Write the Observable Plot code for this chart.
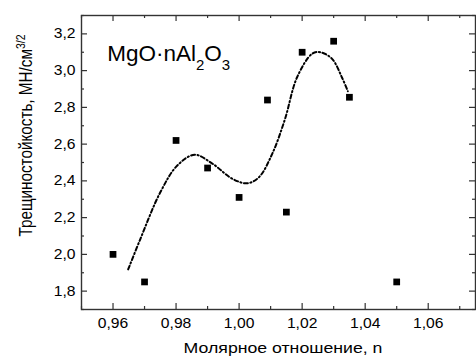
<!DOCTYPE html>
<html><head><meta charset="utf-8">
<script src="https://cdn.jsdelivr.net/npm/d3@7"></script>
<script src="https://cdn.jsdelivr.net/npm/@observablehq/plot@0.6"></script>
<style>html,body{margin:0;padding:0;background:#fff} svg{display:block}</style>
</head><body><div id="chart"></div>
<script>
// Measured points
const ratioN     = [0.96, 0.97, 0.98, 0.99, 1.00, 1.009, 1.015, 1.02, 1.03, 1.035, 1.05];
const toughness  = [2.00, 1.85, 2.62, 2.47, 2.31, 2.84,  2.23,  3.10, 3.16, 2.855, 1.85];
// Fitted (dash-dot) curve
const fitN = [0.9648, 0.9687, 0.9750, 0.9804, 0.9859, 0.9916, 0.9979, 1.0026, 1.0063, 1.0105, 1.0145, 1.0184, 1.0232, 1.0258, 1.0295, 1.0326, 1.0345];
const fitT = [1.918, 2.085, 2.338, 2.484, 2.542, 2.493, 2.411, 2.387, 2.420, 2.547, 2.733, 2.964, 3.092, 3.100, 3.064, 2.964, 2.888];
// Ticks
const xMajorTicks = [0.96, 0.98, 1.00, 1.02, 1.04, 1.06];
const xMinorTicks = [0.95, 0.97, 0.99, 1.01, 1.03, 1.05, 1.07];
const yMajorTicks = [1.8, 2.0, 2.2, 2.4, 2.6, 2.8, 3.0, 3.2];
const yMinorTicks = [1.7, 1.9, 2.1, 2.3, 2.5, 2.7, 2.9, 3.1, 3.3];
// Texts
const xLabel = "Молярное отношение, n";
const yLabel = "Трещиностойкость, МН/см";
const yLabelSup = "3/2";
const annotationParts = ["MgO·nAl", "2", "O", "3"];

const W = 476, H = 358, mL = 81, mR = 1, mT = 15, mB = 49;
const pw = W - mL - mR, ph = H - mT - mB;
const fmt = (d, n) => d.toFixed(n).replace(".", ",");

const points = ratioN.map((n, i) => ({n, t: toughness[i]}));
const fit = fitN.map((n, i) => ({n, t: fitT[i]}));
const tickColor = "#333";

const svg = Plot.plot({
  width: W, height: H,
  marginLeft: mL, marginRight: mR, marginTop: mT, marginBottom: mB,
  style: {fontFamily: "'Liberation Sans', Arial, sans-serif", background: "#fff", color: "#000", overflow: "visible"},
  x: {domain: [0.95, 1.075]},
  y: {domain: [1.7, 3.3]},
  marks: [
    Plot.tickX(xMajorTicks, {x: d => d, insetTop: ph - 6, stroke: tickColor, strokeWidth: 1.2}),
    Plot.tickX(xMinorTicks, {x: d => d, insetTop: ph - 3, stroke: tickColor, strokeWidth: 1.2}),
    Plot.tickX(xMajorTicks, {x: d => d, insetBottom: ph - 6, stroke: tickColor, strokeWidth: 1.2}),
    Plot.tickX(xMinorTicks, {x: d => d, insetBottom: ph - 3, stroke: tickColor, strokeWidth: 1.2}),
    Plot.tickY(yMajorTicks, {y: d => d, insetRight: pw - 6, stroke: tickColor, strokeWidth: 1.2}),
    Plot.tickY(yMinorTicks, {y: d => d, insetRight: pw - 3, stroke: tickColor, strokeWidth: 1.2}),
    Plot.tickY(yMajorTicks, {y: d => d, insetLeft: pw - 6, stroke: tickColor, strokeWidth: 1.2}),
    Plot.tickY(yMinorTicks, {y: d => d, insetLeft: pw - 3, stroke: tickColor, strokeWidth: 1.2}),
    Plot.axisX(xMajorTicks, {tickSize: 0, tickPadding: 9, tickFormat: d => fmt(d, 2), fontSize: 14, label: null}),
    Plot.axisY(yMajorTicks, {tickSize: 0, tickPadding: 6, tickFormat: d => fmt(d, 1), fontSize: 14, label: null}),
    Plot.frame({stroke: tickColor, strokeWidth: 1.4}),
    Plot.line(fit, {x: "n", y: "t", curve: "catmull-rom", stroke: "#000", strokeWidth: 2, strokeDasharray: "4,2.5,1.2,2.5"}),
    Plot.dot(points, {x: "n", y: "t", symbol: "square", r: 3.8, fill: "#000", stroke: "none"}),
    Plot.text([xLabel], {text: d => d, frameAnchor: "bottom", textAnchor: "middle", lineAnchor: "middle", dx: 4.5, dy: 38.7, fontSize: 15}),
    Plot.text([yLabel], {text: d => d, frameAnchor: "left", textAnchor: "middle", lineAnchor: "middle", rotate: -90, dx: -55, dy: -27, fontSize: 15.3}),
    Plot.text([annotationParts[0]], {text: d => d, frameAnchor: "top-left", textAnchor: "start", lineAnchor: "bottom", dx: 25.7, dy: 45.7, fontSize: 22.5})
  ]
});
document.getElementById("chart").append(svg);

const NS = "http://www.w3.org/2000/svg";
const texts = Array.from(svg.querySelectorAll("text"));
const findText = s => texts.find(t => t.textContent === s);
function addScale(t, sx, sy) {
  if (!t) return;
  const tr = t.getAttribute("transform") || "";
  t.setAttribute("transform", tr + ` scale(${sx},${sy})`);
}
function tspan(parent, txt, dy, fs) {
  const t = document.createElementNS(NS, "tspan");
  if (dy != null) t.setAttribute("dy", dy);
  if (fs != null) t.setAttribute("font-size", fs);
  t.textContent = txt;
  parent.appendChild(t);
}
// stretch tick labels
const xTickStr = xMajorTicks.map(d => fmt(d, 2));
const yTickStr = yMajorTicks.map(d => fmt(d, 1));
texts.forEach(t => {
  if (xTickStr.includes(t.textContent) || yTickStr.includes(t.textContent)) addScale(t, 1.12, 1);
});
// x label
addScale(findText(xLabel), 1.18, 1);
// y label with superscript
const yl = findText(yLabel);
if (yl) {
  tspan(yl, yLabelSup, "-0.55em", 10.5);
  addScale(yl, 1, 1.2);
}
// annotation with subscripts
const an = findText(annotationParts[0]);
if (an) {
  tspan(an, annotationParts[1], 8.5, 15);
  tspan(an, annotationParts[2], -8.5, 22.5);
  tspan(an, annotationParts[3], 8.5, 15);
}
</script>
</body></html>
